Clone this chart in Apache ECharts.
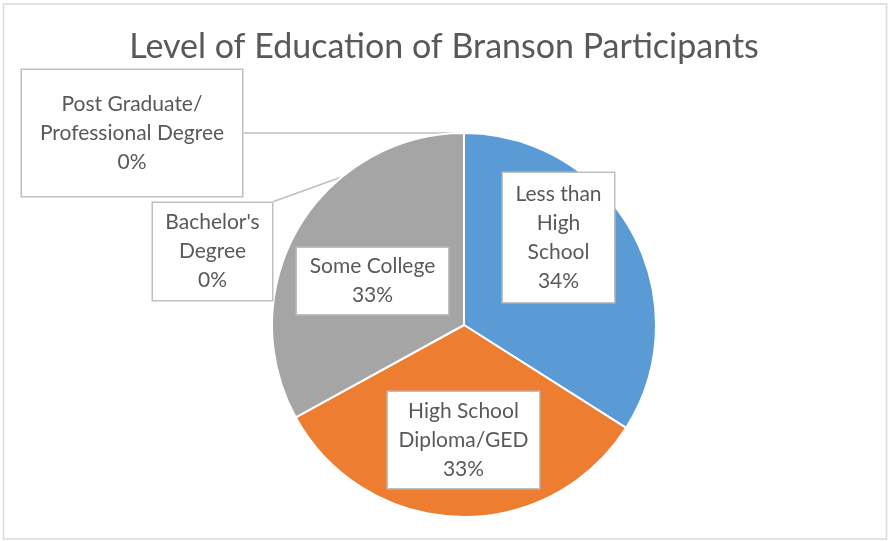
<!DOCTYPE html>
<html><head><meta charset="utf-8">
<script src="https://cdn.jsdelivr.net/npm/echarts@6/dist/echarts.min.js"></script>
<style>html,body{margin:0;padding:0;background:#fff}#c{width:888px;height:541px}</style>
</head><body><div id="c"></div>
<script>
const titleText = 'Level of Education of Branson Participants';
const categories = ['Less than\nHigh\nSchool', 'High School\nDiploma/GED', 'Some College', "Bachelor's\nDegree", 'Post Graduate/\nProfessional Degree'];
const values = [34, 33, 33, 0, 0];
const colors = ['#5B9BD5', '#ED7D31', '#A5A5A5', '#FFC000', '#4472C4'];

// callout box placement (layout only: centre, text width, vertical padding)
const callouts = [
  { x: 558.5, y: 237.5, w: 95, pv: 6.5 },
  { x: 463.5, y: 440, w: 135, pv: 4.5 },
  { x: 372.5, y: 281, w: 135, pv: 4 },
  { x: 212.5, y: 251.5, w: 103, pv: 5 },
  { x: 132, y: 133, w: 204, pv: 19.5 }
];

const chart = echarts.init(document.getElementById('c'), null, { renderer: 'canvas' });
const FONT = 'Lato';

const data = categories.map((name, i) => ({
  name: name,
  value: values[i],
  itemStyle: { color: colors[i] },
  label: { width: callouts[i].w, padding: [callouts[i].pv, 8, callouts[i].pv, 8] }
}));

chart.setOption({
  animation: false,
  title: {
    text: titleText,
    left: 'center',
    top: 30,
    padding: 0,
    textStyle: { fontFamily: FONT, fontSize: 34, fontWeight: 'normal', color: '#595959' }
  },
  graphic: [{
    type: 'rect', silent: true,
    shape: { x: 3.5, y: 4, width: 883, height: 535 },
    style: { fill: 'none', stroke: '#D9D9D9', lineWidth: 1.5 }
  }],
  series: [{
    type: 'pie',
    center: [464, 325],
    radius: 192,
    startAngle: 90,
    clockwise: true,
    avoidLabelOverlap: false,
    silent: true,
    itemStyle: { borderColor: '#fff', borderWidth: 2 },
    label: {
      show: true,
      position: 'outside',
      formatter: '{b}\n{c}%',
      fontFamily: FONT,
      fontSize: 21,
      lineHeight: 29,
      color: '#595959',
      align: 'center',
      backgroundColor: '#fff',
      borderColor: '#BFBFBF',
      borderWidth: 1.5
    },
    labelLine: {
      show: true, length: 10, length2: 10,
      lineStyle: { color: '#BFBFBF', width: 1.5 }
    },
    labelLayout: function (p) {
      const c = callouts[p.dataIndex];
      const w = p.labelRect.width, h = p.labelRect.height;
      const left = c.x - w / 2, top = c.y - h / 2;
      const res = { x: c.x, y: c.y, align: 'center', verticalAlign: 'middle' };
      if (p.labelLinePoints && p.labelLinePoints.length) {
        const a = p.labelLinePoints[0];
        const px = Math.min(Math.max(a[0], left), left + w);
        const py = Math.min(Math.max(a[1], top), top + h);
        res.labelLinePoints = [[a[0], a[1]], [a[0], a[1]], [px, py]];
      }
      return res;
    },
    data: data
  }]
});
</script>
</body></html>
